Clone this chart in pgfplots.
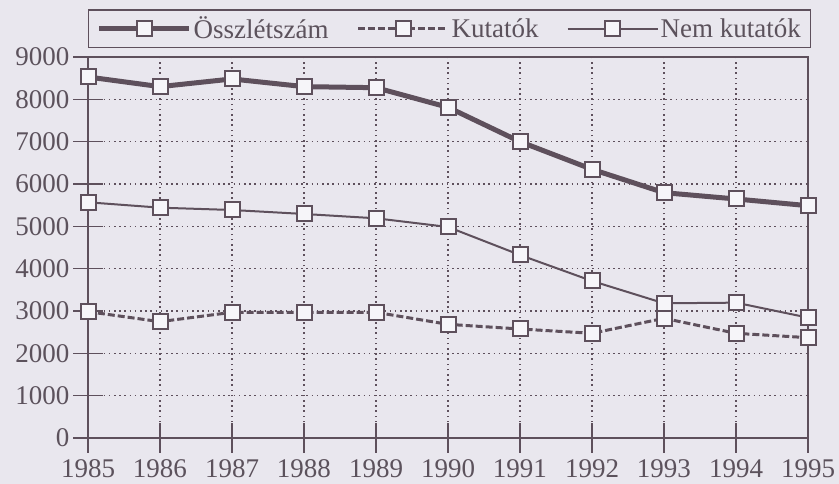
\documentclass[border=0pt]{standalone}
\usepackage{pgfplots}
\pgfplotsset{compat=1.18}
\usepackage{fontspec}
\setmainfont{Liberation Serif}
\definecolor{bg}{RGB}{233,231,238}
\definecolor{linec}{RGB}{94,80,92}
\definecolor{textc}{RGB}{92,82,92}
\definecolor{mfill}{RGB}{246,245,249}
\begin{document}
\begin{tikzpicture}
\fill[bg] (0,0) rectangle (839pt,484pt);
\begin{axis}[
  at={(88pt,46pt)}, anchor=south west,
  scale only axis, width=720pt, height=381pt,
  xmin=1985, xmax=1995, ymin=0, ymax=9000,
  xtick={1985,1986,...,1995},
  ytick={0,1000,...,9000},
  xtick pos=left, ytick pos=left,
  tick align=center, major tick length=30pt,
  every major tick/.append style={line width=1.6pt, color=linec},
  axis line style={line width=1.6pt, color=linec},
  grid=major,
  major grid style={line width=1.6pt, color=linec, dash pattern=on 1.6pt off 3.6pt},
  font=\fontsize{27}{31}\selectfont,
  /pgf/number format/assume math mode=true,
  /pgf/number format/1000 sep={},
  ticklabel style={text=textc},
  xticklabel style={yshift=-3pt},
  legend columns=3,
  legend cell align=left,
  legend style={at={(rel axis cs:0,1)}, anchor=south west, yshift=9pt,
    draw=linec, line width=1.3pt, fill=none, text=textc,
    inner xsep=8pt, inner ysep=5pt,
    /tikz/every even column/.append style={column sep=26pt},
    font=\fontsize{27}{31}\selectfont},
  legend image code/.code={\draw[mark repeat=2,mark phase=2,#1] plot coordinates {(0pt,0pt) (45pt,0pt) (90pt,0pt)};},
]
\addplot[line width=5pt, color=linec, mark=square*, mark size=7.5pt,
  mark options={solid, fill=mfill, draw=linec, line width=2pt}]
  coordinates {(1985,8528)(1986,8300)(1987,8481)(1988,8300)(1989,8275)(1990,7812)(1991,7000)(1992,6347)(1993,5795)(1994,5646)(1995,5488)};
\addlegendentry{Összlétszám}
\addplot[line width=3pt, color=linec, dash pattern=on 7pt off 3pt, mark=square*, mark size=7.5pt,
  mark options={solid, fill=mfill, draw=linec, line width=2pt}]
  coordinates {(1985,2984)(1986,2748)(1987,2969)(1988,2969)(1989,2969)(1990,2685)(1991,2575)(1992,2473)(1993,2827)(1994,2473)(1995,2370)};
\addlegendentry{Kutatók}
\addplot[line width=2pt, color=linec, mark=square*, mark size=7.5pt,
  mark options={solid, fill=mfill, draw=linec, line width=2pt}]
  coordinates {(1985,5568)(1986,5441)(1987,5386)(1988,5292)(1989,5190)(1990,4985)(1991,4323)(1992,3709)(1993,3182)(1994,3197)(1995,2843)};
\addlegendentry{Nem kutatók}
\end{axis}
\end{tikzpicture}
\end{document}
